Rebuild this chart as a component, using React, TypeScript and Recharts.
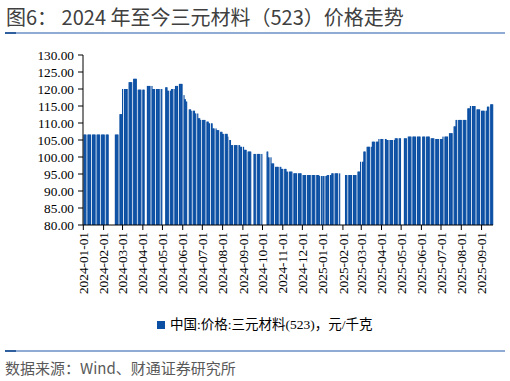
import React from 'react';
import { BarChart, Bar, XAxis, YAxis } from 'recharts';

const FIRST_DAY = '2024-01-01';
const LAST_DAY = '2025-09-18';

// Piecewise-constant price runs: [from, to, value] (weekdays only)
const priceRuns: [string, string, number][] = [
  ['2024-01-02', '2024-02-08', 106.6],
  ['2024-02-19', '2024-02-23', 106.6],
  ['2024-02-26', '2024-02-29', 112.6],
  ['2024-03-01', '2024-03-08', 120.0],
  ['2024-03-11', '2024-03-15', 122.0],
  ['2024-03-18', '2024-03-22', 123.0],
  ['2024-03-25', '2024-04-03', 119.8],
  ['2024-04-07', '2024-04-15', 120.9],
  ['2024-04-16', '2024-04-30', 120.0],
  ['2024-05-06', '2024-05-08', 120.5],
  ['2024-05-09', '2024-05-14', 119.5],
  ['2024-05-15', '2024-05-20', 120.0],
  ['2024-05-21', '2024-05-24', 120.9],
  ['2024-05-27', '2024-05-31', 121.5],
  ['2024-06-03', '2024-06-03', 118.2],
  ['2024-06-04', '2024-06-05', 117.0],
  ['2024-06-06', '2024-06-07', 116.3],
  ['2024-06-11', '2024-06-13', 114.0],
  ['2024-06-14', '2024-06-19', 113.6],
  ['2024-06-20', '2024-06-24', 112.8],
  ['2024-06-25', '2024-06-27', 111.4],
  ['2024-06-28', '2024-07-05', 110.9],
  ['2024-07-08', '2024-07-10', 110.4],
  ['2024-07-11', '2024-07-16', 109.9],
  ['2024-07-17', '2024-07-22', 108.4],
  ['2024-07-23', '2024-07-26', 107.9],
  ['2024-07-29', '2024-07-31', 107.4],
  ['2024-08-01', '2024-08-08', 106.8],
  ['2024-08-09', '2024-08-09', 106.0],
  ['2024-08-12', '2024-08-13', 105.0],
  ['2024-08-14', '2024-08-27', 103.5],
  ['2024-08-28', '2024-09-02', 103.0],
  ['2024-09-03', '2024-09-06', 102.1],
  ['2024-09-09', '2024-09-13', 101.6],
  ['2024-09-18', '2024-09-30', 100.9],
  ['2024-10-08', '2024-10-09', 101.6],
  ['2024-10-10', '2024-10-14', 99.9],
  ['2024-10-15', '2024-10-18', 98.1],
  ['2024-10-21', '2024-10-29', 97.1],
  ['2024-10-30', '2024-11-06', 96.5],
  ['2024-11-07', '2024-11-15', 95.7],
  ['2024-11-18', '2024-11-29', 95.2],
  ['2024-12-02', '2024-12-26', 94.7],
  ['2024-12-27', '2024-12-31', 94.4],
  ['2025-01-02', '2025-01-07', 94.4],
  ['2025-01-08', '2025-01-14', 94.7],
  ['2025-01-15', '2025-01-27', 95.2],
  ['2025-02-05', '2025-02-21', 94.7],
  ['2025-02-24', '2025-02-27', 95.7],
  ['2025-02-28', '2025-03-04', 98.6],
  ['2025-03-05', '2025-03-07', 101.6],
  ['2025-03-10', '2025-03-17', 103.0],
  ['2025-03-18', '2025-03-27', 104.5],
  ['2025-03-28', '2025-04-03', 105.3],
  ['2025-04-07', '2025-04-08', 105.3],
  ['2025-04-09', '2025-04-21', 105.0],
  ['2025-04-22', '2025-04-30', 105.5],
  ['2025-05-06', '2025-05-09', 105.5],
  ['2025-05-12', '2025-05-30', 106.0],
  ['2025-06-03', '2025-06-13', 106.0],
  ['2025-06-16', '2025-06-20', 105.5],
  ['2025-06-23', '2025-07-03', 105.3],
  ['2025-07-04', '2025-07-11', 106.0],
  ['2025-07-14', '2025-07-18', 107.0],
  ['2025-07-21', '2025-07-23', 109.0],
  ['2025-07-24', '2025-08-08', 110.9],
  ['2025-08-11', '2025-08-14', 114.3],
  ['2025-08-15', '2025-08-22', 115.0],
  ['2025-08-25', '2025-08-29', 114.0],
  ['2025-09-01', '2025-09-09', 113.6],
  ['2025-09-10', '2025-09-12', 114.8],
  ['2025-09-15', '2025-09-18', 115.5],
];

const monthTicks: string[] = [
  '2024-01-01', '2024-02-01', '2024-03-01', '2024-04-01', '2024-05-01', '2024-06-01',
  '2024-07-01', '2024-08-01', '2024-09-01', '2024-10-01', '2024-11-01', '2024-12-01',
  '2025-01-01', '2025-02-01', '2025-03-01', '2025-04-01', '2025-05-01', '2025-06-01',
  '2025-07-01', '2025-08-01', '2025-09-01',
];

const yTicks: number[] = [80, 85, 90, 95, 100, 105, 110, 115, 120, 125, 130];

const TITLE = '图6： 2024 年至今三元材料（523）价格走势';
const SERIES_NAME = '中国:价格:三元材料(523)，元/千克';
const SOURCE = '数据来源：Wind、财通证券研究所';

const BAR_COLOR = '#0b4fa3';

const toUTC = (s: string) => {
  const [y, m, d] = s.split('-').map(Number);
  return Date.UTC(y, m - 1, d);
};
const fmt = (t: number) => new Date(t).toISOString().slice(0, 10);

const buildData = () => {
  const DAY = 86400000;
  const valueByDate: Record<string, number> = {};
  priceRuns.forEach(([a, b, v]) => {
    for (let t = toUTC(a); t <= toUTC(b); t += DAY) {
      const wd = new Date(t).getUTCDay();
      if (wd !== 0 && wd !== 6) valueByDate[fmt(t)] = v;
    }
  });
  const rows: { date: string; value: number | null }[] = [];
  for (let t = toUTC(FIRST_DAY); t <= toUTC(LAST_DAY); t += DAY) {
    const key = fmt(t);
    rows.push({ date: key, value: valueByDate[key] ?? null });
  }
  return rows;
};

const data = buildData();

const SERIF = '"Liberation Serif", "Times New Roman", "Noto Sans CJK SC", serif';
const SANS = '"Noto Sans CJK SC", "Noto Sans", sans-serif';

const DateTick = (props: any) => {
  const { x, y, payload } = props;
  if (!monthTicks.includes(payload.value)) return <g />;
  return (
    <g>
      <line x1={x} y1={y - 7} x2={x} y2={y - 2} stroke="#000" strokeWidth={1} />
      <text
        x={x}
        y={y}
        transform={`rotate(-90, ${x}, ${y})`}
        textAnchor="end"
        dy="0.35em"
        fontSize={13.3}
        style={{ fontFamily: SERIF }}
        fill="#000"
      >
        {payload.value}
      </text>
    </g>
  );
};

const YTick = (props: any) => {
  const { x, y, payload } = props;
  return (
    <text
      x={x}
      y={y}
      textAnchor="end"
      dy="0.35em"
      fontSize={13.3}
      style={{ fontFamily: SERIF }}
      fill="#000"
    >
      {Number(payload.value).toFixed(2)}
    </text>
  );
};

const WideBar = (props: any) => {
  const { x, y, width, height, fill } = props;
  if (!height || height <= 0 || x == null) return <g />;
  return <rect x={x - 0.25} y={y} width={width + 0.5} height={height} fill={fill} />;
};

export default function App() {
  return (
    <div
      style={{
        position: 'fixed',
        left: 0,
        top: 0,
        width: 510,
        height: 381,
        background: '#fff',
        overflow: 'hidden',
      }}
    >
      <div
        style={{
          position: 'absolute',
          left: 6,
          top: 3,
          fontFamily: SANS,
          fontSize: 20,
          fontWeight: 400,
          color: '#404040',
          whiteSpace: 'nowrap',
          lineHeight: '28px',
        }}
      >
        {TITLE}
      </div>
      <div style={{ position: 'absolute', left: 5, top: 32, width: 500, height: 2, background: '#8fabd4' }} />
      <div style={{ position: 'absolute', left: 5, top: 32, width: 11, height: 2, background: '#2f5f9e' }} />

      <div style={{ position: 'absolute', left: 0, top: 0 }}>
        <BarChart
          width={510}
          height={381}
          data={data}
          margin={{ top: 55, right: 17, bottom: 0, left: 0 }}
          barCategoryGap={0}
          barGap={0}
        >
          <XAxis
            dataKey="date"
            type="category"
            ticks={monthTicks}
            interval={0}
            height={156}
            tickLine={false}
            tickSize={5}
            tickMargin={2}
            axisLine={{ stroke: '#000' }}
            tick={<DateTick />}
          />
          <YAxis
            domain={[80, 130]}
            ticks={yTicks}
            interval={0}
            allowDataOverflow
            width={83}
            tickSize={5}
            tickMargin={4}
            tick={<YTick />}
            tickLine={{ stroke: '#000' }}
            axisLine={{ stroke: '#000' }}
          />
          <Bar dataKey="value" fill={BAR_COLOR} isAnimationActive={false} shape={<WideBar />} />
        </BarChart>
      </div>

      <div
        style={{
          position: 'absolute',
          left: 157,
          top: 316,
          display: 'flex',
          alignItems: 'center',
          whiteSpace: 'nowrap',
        }}
      >
        <span style={{ display: 'inline-block', width: 8, height: 8, background: BAR_COLOR, marginRight: 5 }} />
        <span style={{ fontFamily: SERIF, fontSize: 13.5, color: '#000', lineHeight: '18px' }}>{SERIES_NAME}</span>
      </div>

      <div style={{ position: 'absolute', left: 5, top: 350, width: 500, height: 2, background: '#8fabd4' }} />
      <div style={{ position: 'absolute', left: 5, top: 350, width: 11, height: 2, background: '#2f5f9e' }} />
      <div
        style={{
          position: 'absolute',
          left: 5,
          top: 358,
          fontFamily: SANS,
          fontSize: 15,
          color: '#595959',
          whiteSpace: 'nowrap',
          lineHeight: '20px',
        }}
      >
        {SOURCE}
      </div>
    </div>
  );
}
